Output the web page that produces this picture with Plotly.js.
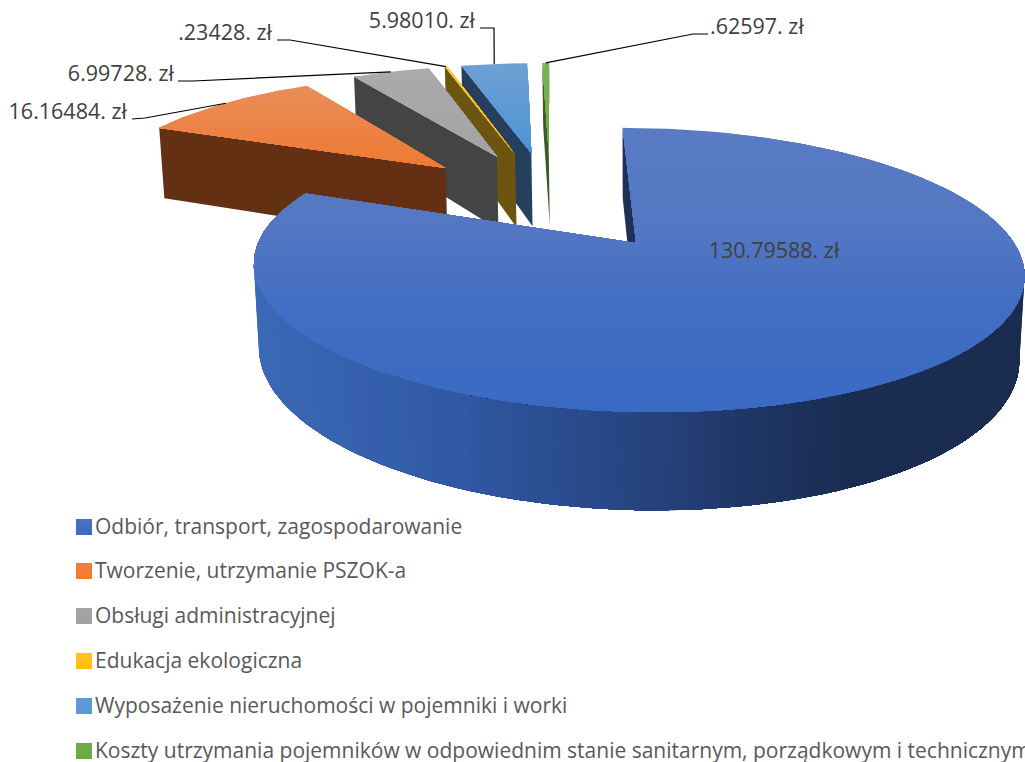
<!DOCTYPE html>
<html lang="pl">
<head>
<meta charset="utf-8">
<script src="https://cdn.plot.ly/plotly-3.0.1.min.js"></script>
<style>html,body{margin:0;padding:0;background:#fff;overflow:hidden}#chart{width:1025px;height:762px}</style>
</head>
<body>
<div id="chart"></div>
<script>
// ---- data ----
const categories = [
  "Odbiór, transport, zagospodarowanie",
  "Tworzenie, utrzymanie PSZOK-a",
  "Obsługi administracyjnej",
  "Edukacja ekologiczna",
  "Wyposażenie nieruchomości w pojemniki i worki",
  "Koszty utrzymania pojemników w odpowiednim stanie sanitarnym, porządkowym i technicznym"
];
const values = [130.79588, 16.16484, 6.99728, 0.23428, 5.98010, 0.62597];
const valueLabels = ["130.79588. zł", "16.16484. zł", "6.99728. zł", ".23428. zł", "5.98010. zł", ".62597. zł"];

// ---- styling ----
const topStops = [
  [[128,"#5a7bc4"],[230,"#5377c3"],[300,"#436ec3"],[412,"#3a6ac3"]],
  [[87,"#e98d5b"],[130,"#ec8245"],[170,"#ed7a2f"]],
  [[70,"#ababab"],[155,"#a3a3a3"]],
  [[65,"#ffc63a"],[150,"#ffc000"]],
  [[64,"#6ea1d3"],[152,"#4e92d4"]],
  [[64,"#79b354"],[160,"#6aa93e"]]
];
const faceColors = ["#1f3057","#633013","#444444","#6c5510","#263f5e","#3d5a28"];
const wallStops = [[255,"#3c69b6"],[450,"#3059a5"],[560,"#2b4c8f"],[640,"#27447e"],[760,"#1e3564"],[850,"#1a2c50"],[1025,"#1a2c50"]];
const legendColors = ["#4a72c4","#f07f3c","#a5a5a5","#ffc42a","#5f9bd5","#70ad47"];
const legendGrad   = ["#3d69c3","#f47a2a","#a0a0a0","#ffbe00","#5a98d8","#6aa93e"];
const legendY = [527, 571, 616, 661, 706, 751];
const legendTextY = [529, 573, 618, 663, 708, 753];
// label anchors and leader elbows are chart furniture, not data
const labelPos = [[774,253,"middle center"],[127,114,"middle left"],[174,76,"middle left"],[272,35,"middle left"],[475,23,"middle left"],[710,29,"middle right"]];
const elbows = [null,[[132,119],[145,118]],[[178,81],[193,81]],[[277,40],[290,40]],[[480,28],[494,28]],[[708,34],[693,34]]];

// ---- projection of the exploded pie ----
const AX=636, AY=243, RX=378, RY=137, K=0.19, M=0.013, H=83, SH=-16, PULL=0.41;
const rad = d => d*Math.PI/180;
function P(u,v,h){ const s=1/(1+K*v+M*h); return [AX+(RX*u+SH*v)*s, AY+(-RY*v+H*h)*s]; }
const total = values.reduce((a,b)=>a+b,0);
let acc=0;
const slices = values.map(val=>{ const a0=acc/total*360; acc+=val; return {a0,a1:acc/total*360}; });
const m0=(slices[0].a0+slices[0].a1)/2;
const O=[-PULL*Math.sin(rad(m0)),-PULL*Math.cos(rad(m0))];
slices.forEach(s=>{ const m=(s.a0+s.a1)/2; s.mid=m; s.cu=O[0]+PULL*Math.sin(rad(m)); s.cv=O[1]+PULL*Math.cos(rad(m)); });
function rim(s,a,h){ return P(s.cu+Math.sin(rad(a)),s.cv+Math.cos(rad(a)),h); }

function hex(c){return [1,3,5].map(i=>parseInt(c.substr(i,2),16));}
function lerpColor(stops,t){
  if(t<=stops[0][0]) return stops[0][1];
  for(let i=1;i<stops.length;i++){ if(t<=stops[i][0]){
    const f=(t-stops[i-1][0])/(stops[i][0]-stops[i-1][0]), a=hex(stops[i-1][1]), b=hex(stops[i][1]);
    return "rgb("+a.map((x,j)=>Math.round(x+(b[j]-x)*f)).join(",")+")"; } }
  return stops[stops.length-1][1];
}
function clipBelow(poly,yc){
  const out=[], ins=p=>p[1]>=yc;
  for(let i=0;i<poly.length;i++){
    const a=poly[i], b=poly[(i+1)%poly.length];
    if(ins(a)) out.push(a);
    if(ins(a)!==ins(b)){ const f=(yc-a[1])/(b[1]-a[1]); out.push([a[0]+(b[0]-a[0])*f,yc]); }
  }
  return out;
}
const traces=[];
function addPoly(paths,color){
  const x=[],y=[];
  paths.forEach((p,i)=>{ if(i){x.push(null);y.push(null);} p.forEach(q=>{x.push(q[0]);y.push(q[1]);}); x.push(p[0][0]); y.push(p[0][1]); });
  traces.push({type:"scatter",mode:"lines",x,y,fill:"toself",fillcolor:color,line:{color,width:0},hoverinfo:"skip",showlegend:false});
}
function drawSlice(i){
  const s=slices[i];
  const apexT=P(s.cu,s.cv,0), apexB=P(s.cu,s.cv,1);
  // radial face on the start side
  addPoly([[rim(s,s.a0,0),rim(s,s.a0,1),apexB,apexT]],faceColors[i]);
  // outer wall, only the part turned to the viewer: painted left to right, each coat running on to the far end
  if(i===0){
    const step=2, last=98;
    for(let a=264;a>last;a-=step){
      const q=[];
      for(let b=a;b>=last;b-=step) q.push(rim(s,b,0));
      for(let b=last;b<=a;b+=step) q.push(rim(s,b,1));
      addPoly([q],lerpColor(wallStops,rim(s,a-step/2,0)[0]));
    }
  }
  // top surface in overlapping convex sub-sectors, painted top-down in coats for the shading
  const parts=Math.ceil((s.a1-s.a0)/60), sectors=[];
  for(let p=0;p<parts;p++){
    const b0=s.a0+(s.a1-s.a0)*p/parts, b1=Math.min(s.a1,s.a0+(s.a1-s.a0)*(p+1)/parts+1), poly=[apexT];
    const n=Math.max(2,Math.ceil(b1-b0));
    for(let j=0;j<=n;j++) poly.push(rim(s,b0+(b1-b0)*j/n,0));
    sectors.push(poly);
  }
  const ys=sectors.flat().map(q=>q[1]), yMin=Math.min(...ys), yMax=Math.max(...ys);
  const bh=i===0?5:4;
  for(let y=yMin;y<yMax;y+=bh){
    const paths=[];
    sectors.forEach(sec=>{
      const c=clipBelow(sec,y);
      if(c.length>2) paths.push(c);
    });
    if(paths.length) addPoly(paths,lerpColor(topStops[i],y+bh/2));
  }
}
[5,4,3,2,1,0].forEach(drawSlice);

// leader lines: from elbow to the middle of each slice's rim
for(let i=1;i<values.length;i++){
  const s=slices[i], e=rim(s,s.mid,0), pts=elbows[i].concat([e]);
  traces.push({type:"scatter",mode:"lines",x:pts.map(p=>p[0]),y:pts.map(p=>p[1]),line:{color:"#000000",width:1.2},hoverinfo:"skip",showlegend:false});
}
// data labels
labelPos.forEach((p,i)=>{
  traces.push({type:"scatter",mode:"text",x:[p[0]],y:[p[1]],text:[valueLabels[i]],textposition:p[2],
    textfont:{family:"Open Sans, Noto Sans, sans-serif",size:21.5,color:"#404040"},hoverinfo:"skip",showlegend:false,cliponaxis:false});
});
// legend
traces.push({type:"scatter",mode:"markers",x:categories.map(()=>84),y:legendY,
  marker:{symbol:"square",size:16,color:legendColors,gradient:{type:"vertical",color:legendGrad}},
  hoverinfo:"skip",showlegend:false,cliponaxis:false});
traces.push({type:"scatter",mode:"text",x:categories.map(()=>95),y:legendTextY,text:categories,textposition:"middle right",
  textfont:{family:"Open Sans, Noto Sans, sans-serif",size:21,color:"#595959"},hoverinfo:"skip",showlegend:false,cliponaxis:false});

Plotly.newPlot("chart",traces,{
  width:1025,height:762,margin:{l:0,r:0,t:0,b:0},paper_bgcolor:"#ffffff",plot_bgcolor:"#ffffff",showlegend:false,
  xaxis:{range:[0,1025],visible:false,fixedrange:true},
  yaxis:{range:[762,0],visible:false,fixedrange:true}
},{displayModeBar:false,staticPlot:true});
</script>
</body>
</html>
